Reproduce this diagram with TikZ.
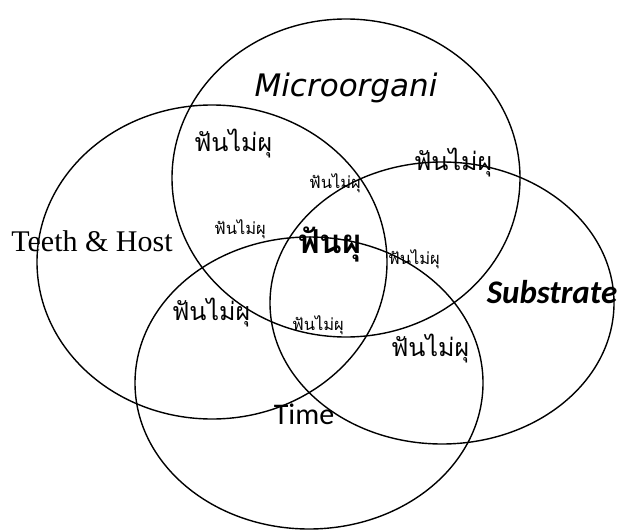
\documentclass[tikz,border=0pt]{standalone}
\usepackage{fontspec}
\setmainfont{Liberation Serif}
\newfontfamily\thaifont[Script=Thai]{Loma}
\newfontfamily\carlito{Carlito}
\newfontfamily\dejavu{DejaVu Sans}
\begin{document}
\begin{tikzpicture}[x=1pt,y=-1pt,
  ring/.style={draw=black,line width=1.4pt},
  bigno/.style={font=\thaifont\fontsize{25}{28}\selectfont,inner sep=0pt},
  smallno/.style={font=\thaifont\fontsize{16.5}{19}\selectfont,inner sep=0pt},
  lbl/.style={inner sep=0pt}]
\useasboundingbox (0,0) rectangle (619,530);
% ellipses
\draw[ring] (346,178) ellipse [x radius=174, y radius=159];
\draw[ring] (212,262) ellipse [x radius=175, y radius=157];
\draw[ring] (442,303) ellipse [x radius=172, y radius=141];
\draw[ring] (309,383) ellipse [x radius=174, y radius=146];
% labels
\node[lbl,font=\dejavu\itshape\fontsize{31}{35}\selectfont] (micro) at (346,88) {Microorgani};
\node[lbl,font=\fontsize{30}{34}\selectfont] (teeth) at (92,241) {Teeth \& Host};
\node[lbl,font=\carlito\bfseries\itshape\fontsize{33}{36}\selectfont] (sub) at (552,292) {Substrate};
\node[lbl,font=\carlito\fontsize{30}{34}\selectfont] (time) at (304,414) {Time};
% center
\node[lbl,font=\thaifont\bfseries\fontsize{33}{36}\selectfont] (caries) at (330,244) {ฟันผุ};
% big non-caries
\node[bigno] (n1) at (233,144) {ฟันไม่ผุ};
\node[bigno] (n2) at (453,163) {ฟันไม่ผุ};
\node[bigno] (n3) at (211,313) {ฟันไม่ผุ};
\node[bigno] (n4) at (430,349) {ฟันไม่ผุ};
% small non-caries
\node[smallno] (s1) at (335,183) {ฟันไม่ผุ};
\node[smallno] (s2) at (240,229) {ฟันไม่ผุ};
\node[smallno] (s3) at (414,259) {ฟันไม่ผุ};
\node[smallno] (s4) at (318,325) {ฟันไม่ผุ};
\end{tikzpicture}
\end{document}
